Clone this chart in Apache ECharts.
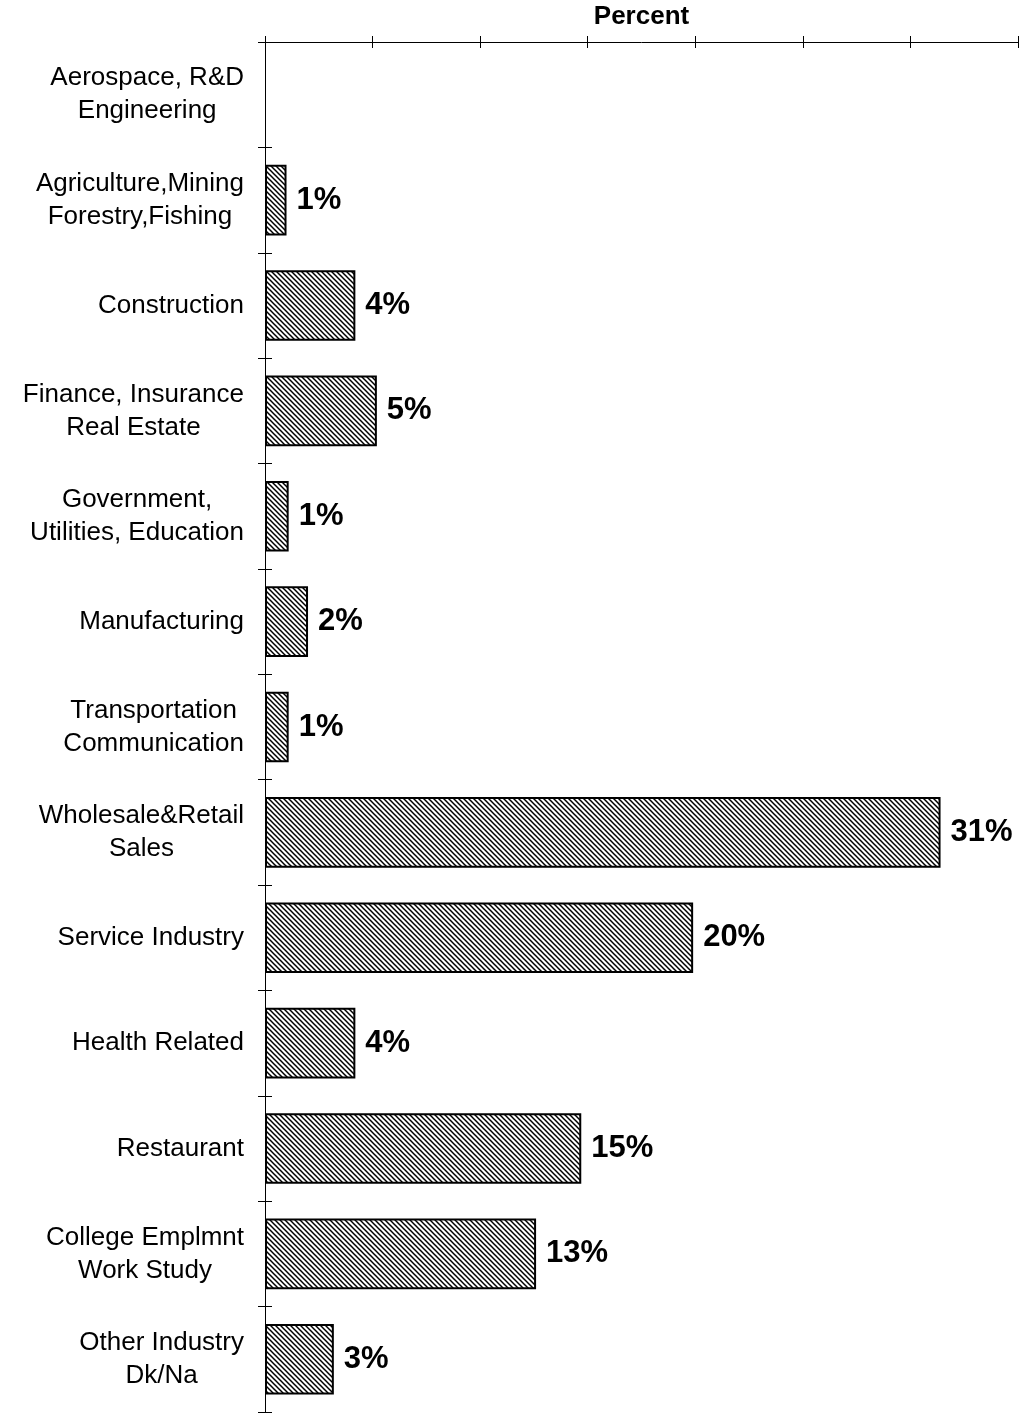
<!DOCTYPE html>
<html>
<head>
<meta charset="utf-8">
<script src="https://cdn.jsdelivr.net/npm/echarts@6/dist/echarts.min.js"></script>
<style>
html,body{margin:0;padding:0;background:#fff;}
#chart{width:1023px;height:1414px;}
</style>
</head>
<body>
<div id="chart"></div>
<script>
const categories = [
  "Aerospace, R&D\nEngineering",
  "Agriculture,Mining\nForestry,Fishing",
  "Construction",
  "Finance, Insurance\nReal Estate",
  "Government,\nUtilities, Education",
  "Manufacturing",
  "Transportation\nCommunication",
  "Wholesale&Retail\nSales",
  "Service Industry",
  "Health Related",
  "Restaurant",
  "College Emplmnt\nWork Study",
  "Other Industry\nDk/Na"
];
const percentValues = [0, 1.0, 4.2, 5.2, 1.1, 2.0, 1.1, 31.4, 19.9, 4.2, 14.7, 12.6, 3.2];
const axisMin = 0, axisMax = 35, axisStep = 5;
const axisTitle = "Percent";

// hatch pattern
const pc = document.createElement('canvas');
pc.width = 5; pc.height = 5;
const ctx = pc.getContext('2d');
ctx.fillStyle = '#fff'; ctx.fillRect(0,0,5,5);
ctx.strokeStyle = '#000'; ctx.lineWidth = 1.5;
for (const k of [-5, 0, 5]) {
  ctx.beginPath(); ctx.moveTo(k - 1, -1); ctx.lineTo(k + 6, 6); ctx.stroke();
}

const labelText = c => c.split('\n').map(l => '{c|' + l + '}').join('\n');

const chart = echarts.init(document.getElementById('chart'), null, {renderer: 'canvas'});
const fontFam = '"Liberation Sans", Arial, sans-serif';
chart.setOption({
  animation: false,
  backgroundColor: '#fff',
  grid: {left: 265, right: 5, top: 42, bottom: 2, containLabel: false, outerBoundsMode: 'none'},
  xAxis: [{
    type: 'value', position: 'top', min: axisMin, max: axisMax, interval: axisStep,
    name: axisTitle, nameLocation: 'middle', nameGap: 12,
    nameTextStyle: {fontFamily: fontFam, fontSize: 26, fontWeight: 'bold', color: '#000'},
    axisLine: {show: true, lineStyle: {color: '#000', width: 1}},
    axisTick: {show: true, inside: false, length: 6, lineStyle: {color: '#000'}},
    axisLabel: {show: false}, splitLine: {show: false}
  }, {
    type: 'value', position: 'top', min: axisMin, max: axisMax, interval: axisStep,
    axisLine: {show: false},
    axisTick: {show: true, inside: true, length: 6, lineStyle: {color: '#000'}},
    axisLabel: {show: false}, splitLine: {show: false}
  }],
  yAxis: [{
    type: 'category', data: categories, inverse: true,
    axisLine: {show: true, lineStyle: {color: '#000', width: 1}},
    axisTick: {show: true, inside: false, length: 7, lineStyle: {color: '#000'}},
    axisLabel: {
      margin: 21, align: 'right', color: '#000', fontFamily: fontFam, fontSize: 26, lineHeight: 33,
      formatter: v => labelText(v),
      rich: {c: {align: 'center', fontFamily: fontFam, fontSize: 26, lineHeight: 33, color: '#000'}}
    }
  }, {
    type: 'category', data: categories, inverse: true, position: 'left',
    axisLine: {show: false},
    axisTick: {show: true, inside: true, length: 7, lineStyle: {color: '#000'}},
    axisLabel: {show: false}
  }],
  series: [{
    type: 'bar', barWidth: '67%',
    data: percentValues.map(v => v > 0 ? v : {value: v, itemStyle: {borderWidth: 0}}),
    itemStyle: {color: {image: pc, repeat: 'repeat'}, borderColor: '#000', borderWidth: 2},
    label: {
      show: true, position: 'right', distance: 10, color: '#000',
      fontFamily: fontFam, fontSize: 31, fontWeight: 'bold',
      formatter: p => p.value > 0 ? Math.round(p.value) + '%' : ''
    }
  }]
});
</script>
</body>
</html>
